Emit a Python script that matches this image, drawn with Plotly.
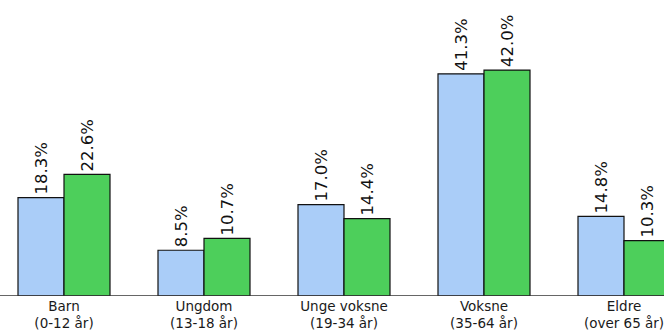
import plotly.graph_objects as go

categories = ["Barn<br>(0-12 år)", "Ungdom<br>(13-18 år)", "Unge voksne<br>(19-34 år)",
              "Voksne<br>(35-64 år)", "Eldre<br>(over 65 år)"]
series_a = [18.3, 8.5, 17.0, 41.3, 14.8]
series_b = [22.6, 10.7, 14.4, 42.0, 10.3]

blue = "#aacdf8"
green = "#4dcf5b"

fig = go.Figure()
for vals, col in [(series_a, blue), (series_b, green)]:
    fig.add_trace(go.Bar(
        x=list(range(len(categories))), y=vals,
        marker=dict(color=col, line=dict(color="#111111", width=1.2)),
        text=[f"{v:.1f}%" for v in vals], texttemplate="%{text}  ",
        textposition="outside", textangle=-90, constraintext="none",
        textfont=dict(family="DejaVu Sans, Verdana, sans-serif", size=16.5, color="#111111"),
        cliponaxis=False, showlegend=False,
    ))

fig.update_layout(
    width=664, height=331, margin=dict(l=0, r=0, t=0, b=35),
    paper_bgcolor="white", plot_bgcolor="white",
    barmode="group", bargap=48/140, bargroupgap=0,
    font=dict(family="DejaVu Sans, Verdana, sans-serif", size=14, color="#1a1a1a"),
    xaxis=dict(range=[-64/140, -64/140 + 664/140], tickmode="array",
               tickvals=list(range(len(categories))), ticktext=categories,
               showgrid=False, zeroline=False, showline=False, ticks="",
               ticklabeloverflow="allow", tickfont=dict(size=13.5)),
    yaxis=dict(range=[0, 296/5.38], visible=False, showgrid=False),
    shapes=[dict(type="line", xref="paper", yref="y", x0=0, x1=1, y0=0, y1=0,
                 line=dict(color="#333333", width=1.5))],
)

fig.write_html("out.html", config={"displayModeBar": False},
               post_script="document.body.style.margin='0';document.body.style.overflow='hidden';")
